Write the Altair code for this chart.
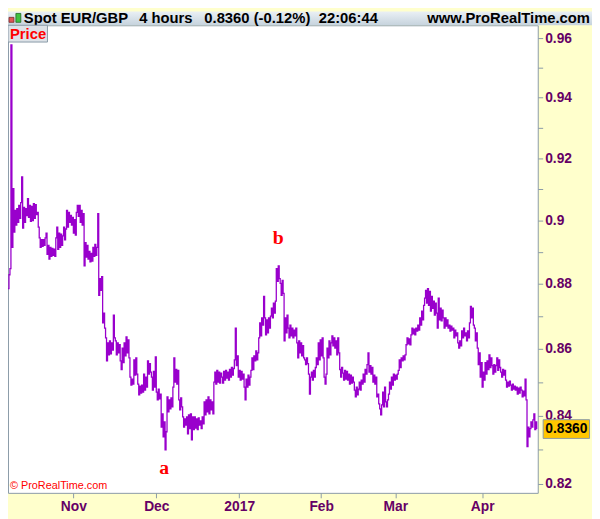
import altair as alt
import pandas as pd

# ---- data (4-hour closes, one sample per bar slot) ----
prices = [
    0.8786, 0.8829, 0.8848, 0.9577, 0.8915, 0.9102, 0.8963, 0.9032, 0.8985, 0.9038, 0.8994, 0.9048,
    0.9007, 0.9057, 0.9140, 0.8976, 0.9042, 0.8994, 0.9038, 0.9016, 0.9070, 0.9010, 0.9048, 0.8997,
    0.9045, 0.9000, 0.9054, 0.9007, 0.9051, 0.9019, 0.9026, 0.8979, 0.8945, 0.8915, 0.8939, 0.8918,
    0.8939, 0.8921, 0.8945, 0.8960, 0.8893, 0.8921, 0.8878, 0.8915, 0.8887, 0.8912, 0.8890, 0.8909,
    0.8887, 0.8945, 0.8979, 0.8909, 0.8960, 0.8915, 0.8957, 0.8921, 0.8951, 0.8979, 0.8939, 0.8973,
    0.9032, 0.8979, 0.9026, 0.8994, 0.9016, 0.8985, 0.9010, 0.8960, 0.9003, 0.8954, 0.9026, 0.9048,
    0.9013, 0.9048, 0.8994, 0.9032, 0.8985, 0.9022, 0.8857, 0.8930, 0.8884, 0.8921, 0.8878, 0.8902,
    0.8869, 0.8896, 0.8872, 0.8915, 0.8887, 0.8924, 0.8890, 0.8915, 0.9022, 0.8765, 0.8817, 0.8780,
    0.8823, 0.8680, 0.8710, 0.8664, 0.8634, 0.8564, 0.8619, 0.8582, 0.8625, 0.8585, 0.8619, 0.8597,
    0.8704, 0.8634, 0.8625, 0.8582, 0.8619, 0.8588, 0.8613, 0.8564, 0.8538, 0.8603, 0.8559, 0.8619,
    0.8579, 0.8637, 0.8588, 0.8628, 0.8573, 0.8515, 0.8491, 0.8509, 0.8494, 0.8567, 0.8521, 0.8573,
    0.8524, 0.8494, 0.8462, 0.8488, 0.8467, 0.8491, 0.8470, 0.8524, 0.8476, 0.8515, 0.8485, 0.8564,
    0.8524, 0.8556, 0.8530, 0.8515, 0.8476, 0.8532, 0.8485, 0.8576, 0.8470, 0.8447, 0.8479, 0.8450,
    0.8464, 0.8366, 0.8405, 0.8337, 0.8381, 0.8299, 0.8352, 0.8456, 0.8411, 0.8447, 0.8420, 0.8453,
    0.8426, 0.8485, 0.8573, 0.8500, 0.8538, 0.8494, 0.8535, 0.8447, 0.8417, 0.8453, 0.8426, 0.8396,
    0.8366, 0.8390, 0.8372, 0.8396, 0.8346, 0.8402, 0.8361, 0.8405, 0.8328, 0.8396, 0.8358, 0.8396,
    0.8363, 0.8390, 0.8358, 0.8393, 0.8372, 0.8384, 0.8361, 0.8396, 0.8375, 0.8441, 0.8402, 0.8447,
    0.8411, 0.8456, 0.8405, 0.8447, 0.8417, 0.8441, 0.8405, 0.8500, 0.8530, 0.8494, 0.8535, 0.8500,
    0.8530, 0.8497, 0.8527, 0.8515, 0.8497, 0.8532, 0.8506, 0.8535, 0.8512, 0.8530, 0.8506, 0.8538,
    0.8515, 0.8544, 0.8521, 0.8541, 0.8567, 0.8664, 0.8550, 0.8579, 0.8515, 0.8535, 0.8506, 0.8532,
    0.8509, 0.8524, 0.8485, 0.8447, 0.8509, 0.8485, 0.8521, 0.8491, 0.8515, 0.8535, 0.8573, 0.8538,
    0.8579, 0.8564, 0.8594, 0.8567, 0.8588, 0.8634, 0.8680, 0.8640, 0.8695, 0.8673, 0.8762, 0.8695,
    0.8643, 0.8689, 0.8649, 0.8695, 0.8664, 0.8701, 0.8725, 0.8695, 0.8741, 0.8710, 0.8747, 0.8848,
    0.8808, 0.8857, 0.8817, 0.8802, 0.8765, 0.8811, 0.8771, 0.8625, 0.8695, 0.8649, 0.8704, 0.8664,
    0.8634, 0.8673, 0.8640, 0.8664, 0.8634, 0.8658, 0.8640, 0.8664, 0.8619, 0.8573, 0.8625, 0.8588,
    0.8619, 0.8579, 0.8610, 0.8573, 0.8567, 0.8553, 0.8573, 0.8556, 0.8524, 0.8464, 0.8515, 0.8530,
    0.8506, 0.8535, 0.8515, 0.8544, 0.8573, 0.8553, 0.8619, 0.8567, 0.8628, 0.8579, 0.8634, 0.8573,
    0.8515, 0.8494, 0.8524, 0.8603, 0.8573, 0.8625, 0.8582, 0.8619, 0.8640, 0.8610, 0.8634, 0.8603,
    0.8625, 0.8582, 0.8634, 0.8588, 0.8538, 0.8515, 0.8544, 0.8527, 0.8506, 0.8535, 0.8509, 0.8532,
    0.8506, 0.8524, 0.8494, 0.8521, 0.8497, 0.8515, 0.8500, 0.8476, 0.8456, 0.8485, 0.8462, 0.8479,
    0.8500, 0.8476, 0.8506, 0.8494, 0.8524, 0.8500, 0.8538, 0.8524, 0.8553, 0.8588, 0.8530, 0.8550,
    0.8524, 0.8544, 0.8500, 0.8521, 0.8494, 0.8515, 0.8456, 0.8464, 0.8435, 0.8420, 0.8402, 0.8432,
    0.8470, 0.8426, 0.8485, 0.8441, 0.8426, 0.8447, 0.8464, 0.8500, 0.8479, 0.8515, 0.8491, 0.8524,
    0.8506, 0.8521, 0.8509, 0.8524, 0.8535, 0.8567, 0.8544, 0.8573, 0.8564, 0.8579, 0.8567, 0.8582,
    0.8613, 0.8634, 0.8616, 0.8631, 0.8613, 0.8643, 0.8664, 0.8646, 0.8661, 0.8643, 0.8664, 0.8655,
    0.8673, 0.8658, 0.8695, 0.8673, 0.8716, 0.8689, 0.8734, 0.8756, 0.8780, 0.8741, 0.8786, 0.8734,
    0.8777, 0.8716, 0.8762, 0.8725, 0.8747, 0.8704, 0.8741, 0.8710, 0.8664, 0.8756, 0.8689, 0.8725,
    0.8686, 0.8719, 0.8695, 0.8664, 0.8695, 0.8670, 0.8689, 0.8664, 0.8673, 0.8655, 0.8670, 0.8658,
    0.8664, 0.8634, 0.8658, 0.8640, 0.8649, 0.8619, 0.8603, 0.8625, 0.8610, 0.8655, 0.8634, 0.8664,
    0.8640, 0.8649, 0.8625, 0.8655, 0.8634, 0.8680, 0.8731, 0.8695, 0.8725, 0.8673, 0.8664, 0.8625,
    0.8649, 0.8603, 0.8553, 0.8588, 0.8515, 0.8559, 0.8485, 0.8530, 0.8506, 0.8559, 0.8524, 0.8564,
    0.8538, 0.8582, 0.8544, 0.8573, 0.8550, 0.8524, 0.8553, 0.8530, 0.8550, 0.8573, 0.8535, 0.8567,
    0.8544, 0.8530, 0.8515, 0.8538, 0.8521, 0.8535, 0.8506, 0.8485, 0.8500, 0.8488, 0.8503, 0.8491,
    0.8476, 0.8494, 0.8479, 0.8488, 0.8476, 0.8485, 0.8464, 0.8482, 0.8467, 0.8485, 0.8476, 0.8456,
    0.8473, 0.8459, 0.8509, 0.8447, 0.8308, 0.8366, 0.8337, 0.8361, 0.8381, 0.8366, 0.8387, 0.8405,
    0.8358, 0.8381, 0.8360,
]
bar_index = list(range(len(prices)))

month_ticks = [67, 152, 237, 321, 397, 486]
month_labels = ["Nov", "Dec", "2017", "Feb", "Mar", "Apr"]
price_ticks = [0.82, 0.83, 0.84, 0.85, 0.86, 0.87, 0.88, 0.89,
               0.90, 0.91, 0.92, 0.93, 0.94, 0.95, 0.96]
price_domain = [0.81734, 0.96436]
bar_domain = [0, 543]

header_texts = ["Spot EUR/GBP", "4 hours", "0.8360 (-0.12%)", "22:06:44"]
header_x = [16, 133, 199, 315]
site_text = "www.ProRealTime.com"
last_price = 0.8360
wave_labels = ["a", "b"]
wave_bars = [160, 277]
wave_prices = [0.8245, 0.8945]

FONT = "Liberation Sans"
PURPLE = "#660066"
GRAY = "#8a9aa8"
W, H = 537, 474

df = pd.DataFrame({"bar": bar_index, "price": prices})
one = pd.DataFrame({"k": [0]})
waves = pd.DataFrame({"bar": wave_bars, "price": wave_prices, "label": wave_labels})

x_label_expr = " : ".join(
    f"datum.value == {t} ? '{l}'" for t, l in zip(month_ticks, month_labels)
) + " : ''"

x_enc = alt.X(
    "bar:Q",
    scale=alt.Scale(domain=bar_domain, nice=False, zero=False),
    axis=alt.Axis(
        values=month_ticks, labelExpr=x_label_expr, title="",
        tickSize=5, tickColor=GRAY, labelPadding=2, domain=False, grid=False,
        labelFont=FONT, labelFontSize=14, labelFontWeight="bold", labelColor=PURPLE,
        labelOverlap=False, labelFlush=False,
    ),
)
y_enc = alt.Y(
    "price:Q",
    scale=alt.Scale(type="log", domain=price_domain, nice=False, zero=False),
    axis=alt.Axis(
        orient="right", values=price_ticks, title="",
        labelExpr="round(datum.value * 100) % 2 == 0 ? format(datum.value, '.2~f') : ''",
        tickSize=5, tickColor=GRAY, labelPadding=2, domain=False, grid=False,
        labelFont=FONT, labelFontSize=14, labelFontWeight="bold", labelColor=PURPLE,
        labelOverlap=False, labelFlush=False,
    ),
)

header_grad = alt.Gradient(
    gradient="linear",
    stops=[alt.GradientStop(color="#eaf0f5", offset=0),
           alt.GradientStop(color="#c6d3dd", offset=1)],
    x1=0, x2=0, y1=0, y2=1,
)

header = alt.Chart(one).mark_rect(fill=header_grad, strokeWidth=0).encode(
    x=alt.value(0), x2=alt.value(592), y=alt.value(-14), y2=alt.value(0)
)
icon_red = alt.Chart(one).mark_rect(fill="#e05555", stroke="#7a2a2a", strokeWidth=0.8).encode(
    x=alt.value(1), x2=alt.value(6), y=alt.value(-8), y2=alt.value(-3)
)
icon_green = alt.Chart(one).mark_rect(fill="#3fc23f", stroke="#226622", strokeWidth=0.8).encode(
    x=alt.value(8), x2=alt.value(13), y=alt.value(-12), y2=alt.value(-3)
)

layers = [header, icon_red, icon_green]
for txt, xp in zip(header_texts, header_x):
    layers.append(
        alt.Chart(one).mark_text(
            text=txt, align="left", baseline="alphabetic", font=FONT,
            fontSize=15, fontWeight="bold", color="black",
        ).encode(x=alt.value(xp), y=alt.value(-2.5))
    )
layers.append(
    alt.Chart(one).mark_text(
        text=site_text, align="right", baseline="alphabetic", font=FONT,
        fontSize=15, fontWeight="bold", color="black",
    ).encode(x=alt.value(590), y=alt.value(-2.5))
)

line = alt.Chart(df).mark_line(
    color="#9900CC", strokeWidth=1.3, clip=True, interpolate="step-after"
).encode(x=x_enc, y=y_enc)
layers.append(line)

price_box = alt.Chart(one).mark_rect(fill="#dde2e7", stroke=GRAY, strokeWidth=1).encode(
    x=alt.value(0), x2=alt.value(40), y=alt.value(0), y2=alt.value(17)
)
price_txt = alt.Chart(one).mark_text(
    text="Price", align="left", baseline="alphabetic", font=FONT,
    fontSize=15, fontWeight="bold", color="#ff0000",
).encode(x=alt.value(2), y=alt.value(14))
copy_txt = alt.Chart(one).mark_text(
    text="© ProRealTime.com", align="left", baseline="middle", font=FONT,
    fontSize=11, color="#ff0000",
).encode(x=alt.value(2), y=alt.value(467))

wave_txt = alt.Chart(waves).mark_text(
    font="Liberation Serif", fontSize=20, fontWeight="bold", color="#ff0000",
    align="center", baseline="middle",
).encode(x=alt.X("bar:Q"), y=alt.Y("price:Q"), text="label:N")

last_box = alt.Chart(one).mark_point(
    shape="M-2.474,-1L2.474,-1L2.474,1L-2.474,1Z", size=361, filled=True,
    fill="#FFC600", stroke=GRAY, strokeWidth=1, opacity=1,
).encode(x=alt.value(566), y=alt.datum(last_price))
last_txt = alt.Chart(one).mark_text(
    text=f"{last_price:.4f}", align="center", baseline="middle", font=FONT,
    fontSize=14, fontWeight="bold", color="black",
).encode(x=alt.value(566), y=alt.datum(last_price))

layers += [price_box, price_txt, copy_txt, wave_txt, last_box, last_txt]

chart = alt.layer(*layers).properties(
    width=W, height=H,
    autosize=alt.AutoSizeParams(type="none"),
    padding={"left": 0, "top": 14, "right": 55, "bottom": 23},
    background="#FFFFCC",
).configure_view(fill="white", stroke=GRAY, strokeWidth=1)

chart.save("out.html", embed_options={"renderer": "svg", "actions": False})
